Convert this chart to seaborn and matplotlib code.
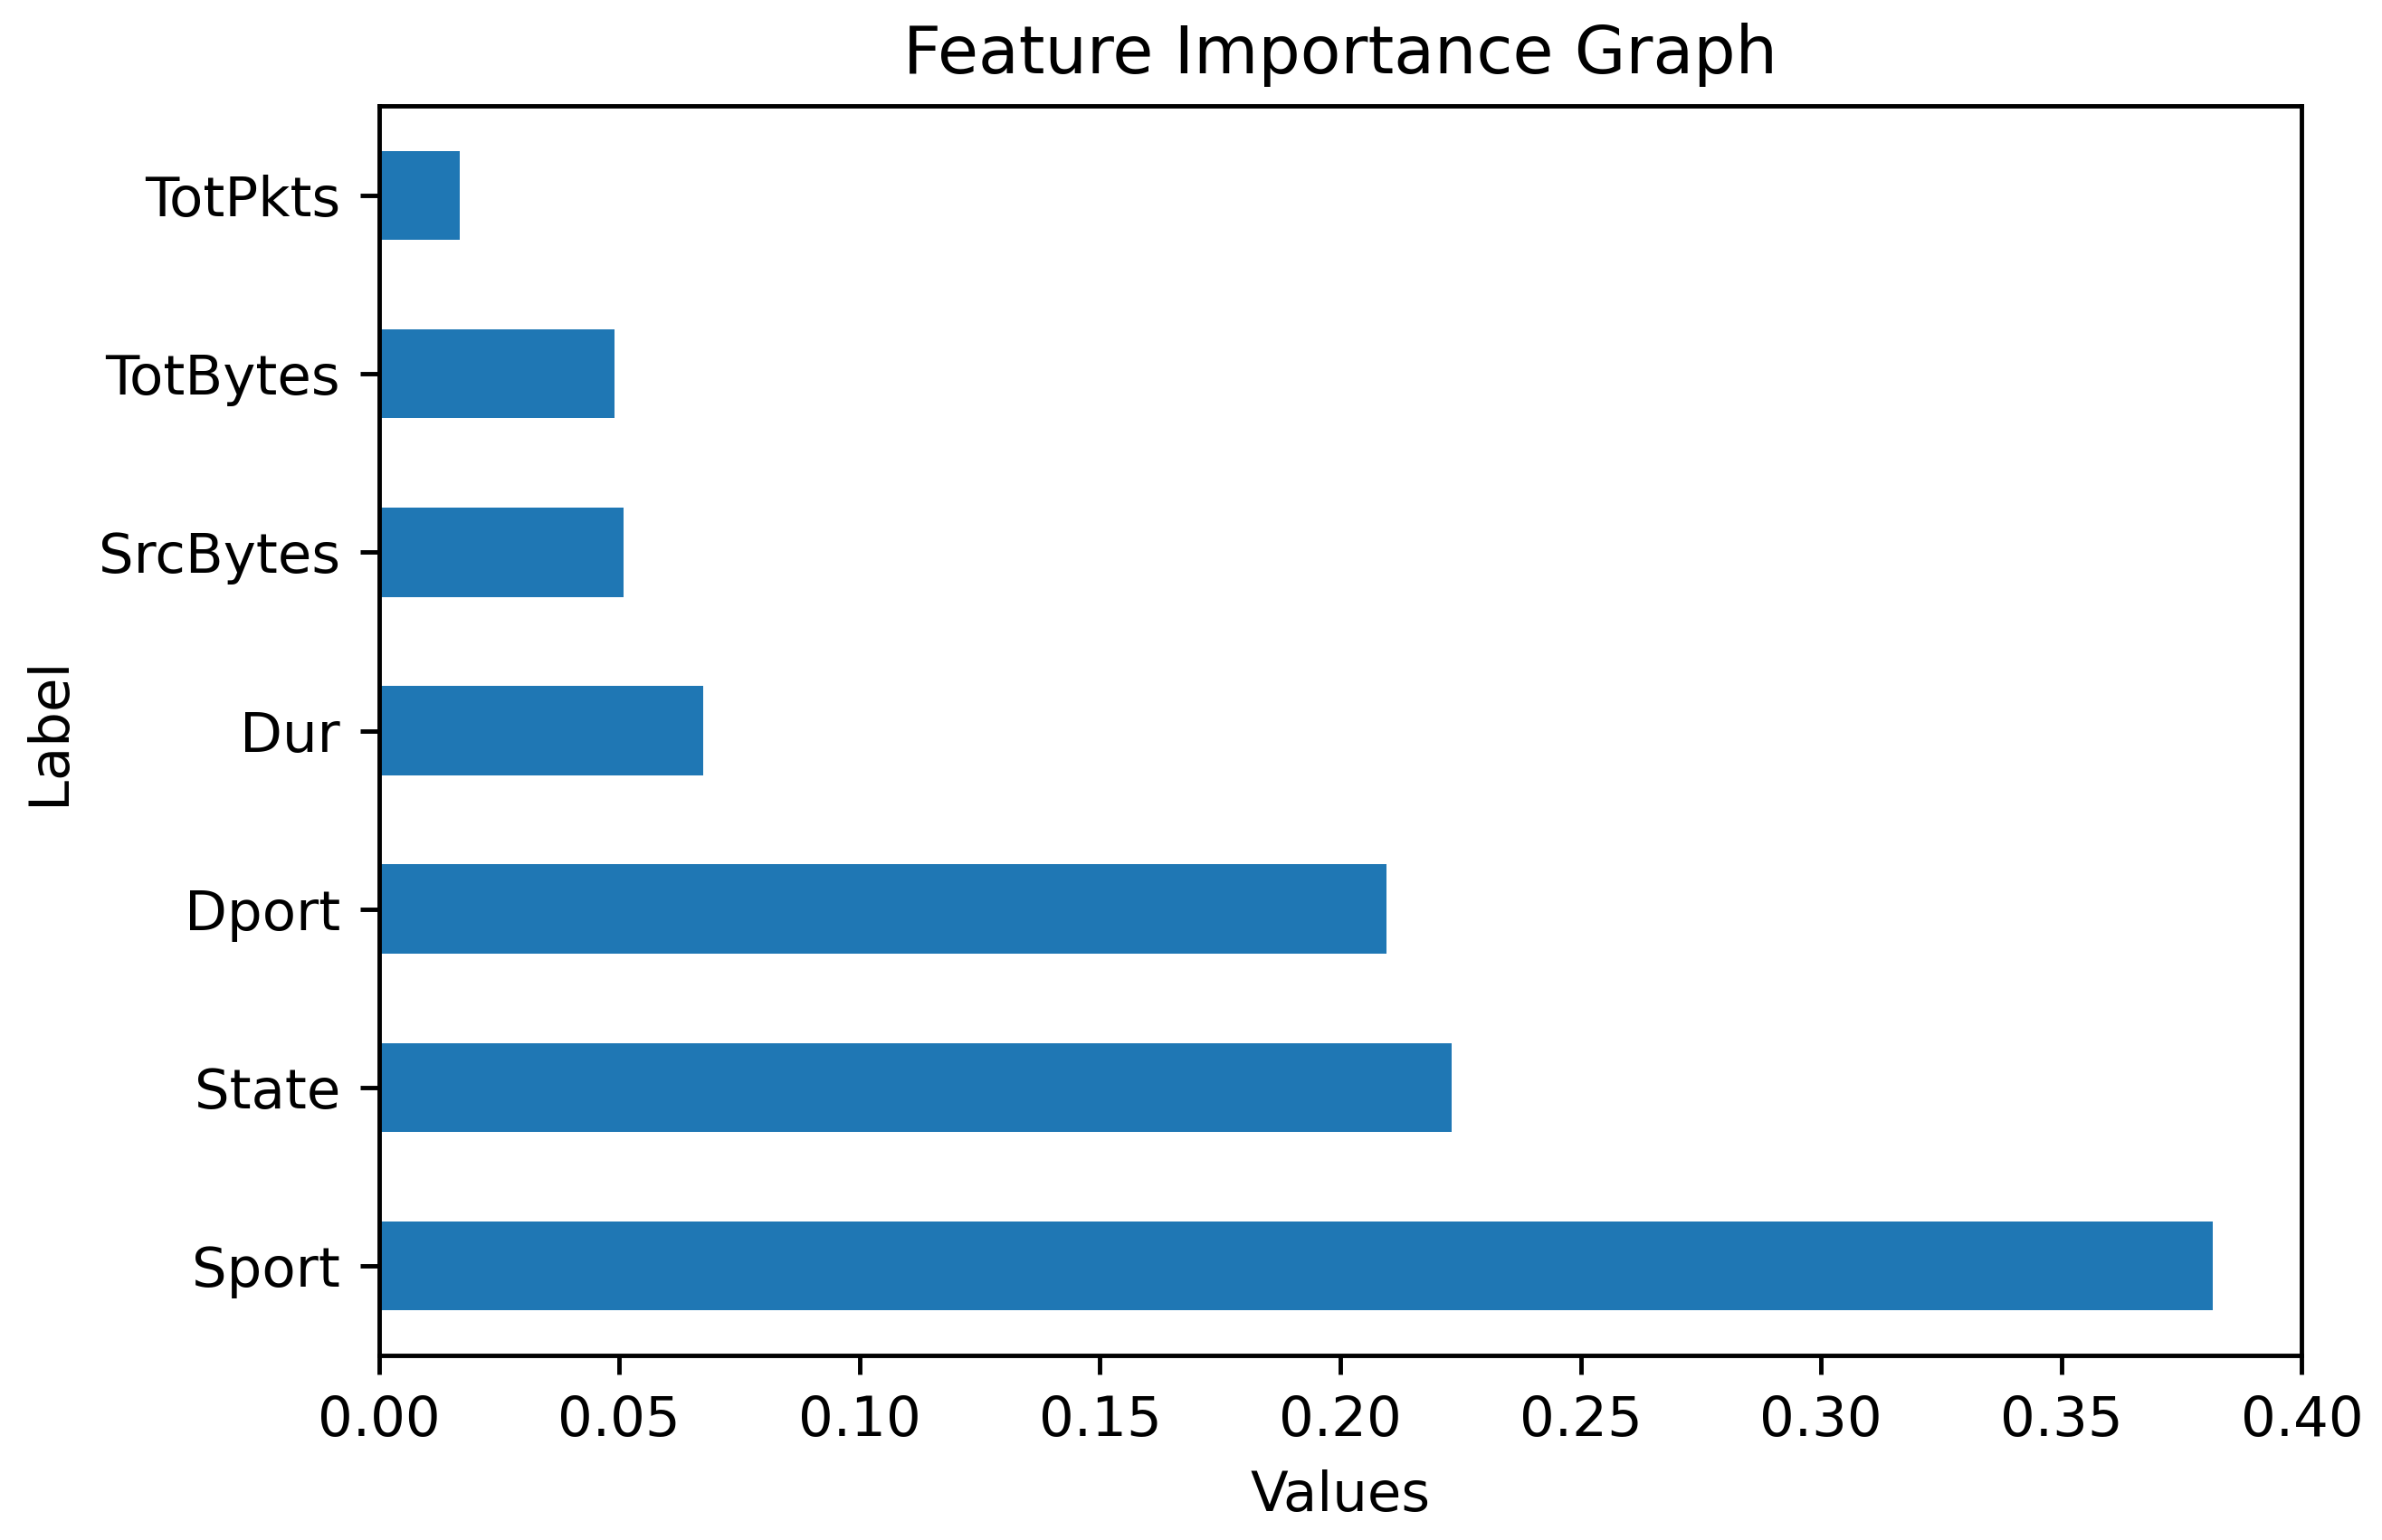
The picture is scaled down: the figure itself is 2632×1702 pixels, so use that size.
import matplotlib
matplotlib.use("Agg")
import matplotlib.pyplot as plt
import seaborn as sns
import pandas as pd

labels = ["TotPkts", "TotBytes", "SrcBytes", "Dur", "Dport", "State", "Sport"]
values = [0.0168, 0.0490, 0.0509, 0.0674, 0.2096, 0.2232, 0.3814]

df = pd.DataFrame({"Label": labels, "Values": values})

fig = plt.figure(figsize=(6, 3.8787), dpi=438.83)
ax = fig.add_axes([0.159, 0.12, 0.807, 0.811])
sns.barplot(data=df, x="Values", y="Label", order=labels, orient="h",
            color="#1f77b4", saturation=1, width=0.5, ax=ax)
ax.set_xlim(0, 0.40)
ax.set_ylim(6.5, -0.5)
ax.set_xticks([i * 0.05 for i in range(9)])
ax.set_xticklabels([f"{i*0.05:.2f}" for i in range(9)])
ax.set_title("Feature Importance Graph", fontsize=12)
ax.set_xlabel("Values")
ax.set_ylabel("Label")
fig.savefig("out.png", dpi=438.83)
